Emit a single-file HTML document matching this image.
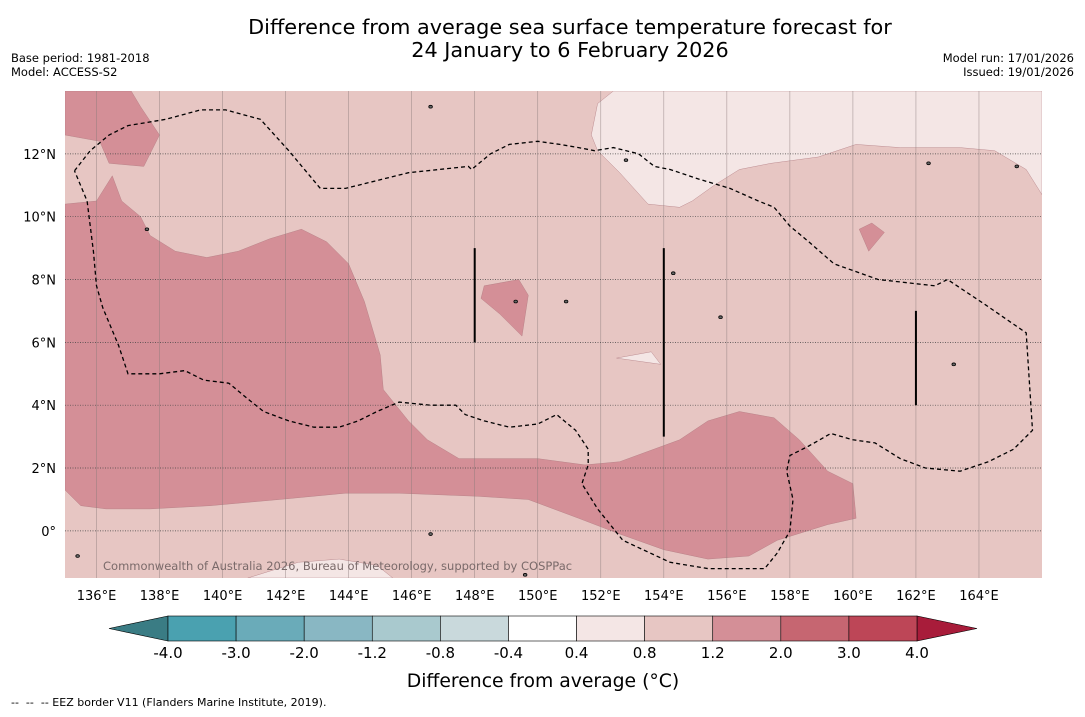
<!DOCTYPE html>
<html><head><meta charset="utf-8">
<style>
body{margin:0;background:#fff;font-family:"DejaVu Sans","Liberation Sans",sans-serif;}
svg text{font-family:"DejaVu Sans","Liberation Sans",sans-serif;}
</style></head>
<body>
<svg id="c" width="1085" height="713" xmlns="http://www.w3.org/2000/svg">
<rect width="1085" height="713" fill="#fff"/>
<text x="570" y="34" text-anchor="middle" font-size="20.8" fill="#000">Difference from average sea surface temperature forecast for</text>
<text x="570" y="57" text-anchor="middle" font-size="20.8" fill="#000">24 January to 6 February 2026</text>
<text x="11" y="62" font-size="11.5">Base period: 1981-2018</text>
<text x="11" y="76" font-size="11.5">Model: ACCESS-S2</text>
<text x="1074" y="62" font-size="11.5" text-anchor="end">Model run: 17/01/2026</text>
<text x="1074" y="76" font-size="11.5" text-anchor="end">Issued: 19/01/2026</text>
<g id="map"></g>
<g id="cbar"></g>
<text x="543" y="687" text-anchor="middle" font-size="18.8">Difference from average (°C)</text>
<text x="11" y="706" font-size="11" xml:space="preserve">--  --  -- EEZ border V11 (Flanders Marine Institute, 2019).</text>
</svg>
<script>
const lonTicks=[136,138,140,142,144,146,148,150,152,154,156,158,160,162,164];
const latTicks=[0,2,4,6,8,10,12];
const latLabels=["0°","2°N","4°N","6°N","8°N","10°N","12°N"];
const cbLevels=[-4.0,-3.0,-2.0,-1.2,-0.8,-0.4,0.4,0.8,1.2,2.0,3.0,4.0];
const cbColors=["#4aa1b0","#6aabb9","#89b7c3","#a9c9ce","#c9d9dc","#ffffff","#f4e6e5","#e7c6c3","#d48f97","#c66671","#bd4657"];
const darkMain=[[135,10.4],[136,10.5],[136.5,11.3],[136.8,10.5],[137.4,10],[137.7,9.4],[138.5,8.9],[139.5,8.7],[140.5,8.9],[141.5,9.3],[142.5,9.6],[143.3,9.2],[144,8.5],[144.5,7.3],[145,5.6],[145.1,4.5],[145.9,3.5],[146.5,2.9],[147.5,2.3],[150,2.3],[151.5,2.1],[152.6,2.2],[154.5,2.9],[155.4,3.5],[156.4,3.8],[157.5,3.6],[158.3,2.9],[159.2,1.9],[160,1.5],[160.1,0.4],[159.2,0.2],[157.6,-0.3],[156.7,-0.8],[155.4,-0.9],[154,-0.6],[152.6,-0.1],[151.3,0.4],[149.7,1],[148.1,1.1],[145.6,1.2],[143.9,1.2],[141.8,1],[139.6,0.8],[137.7,0.7],[136.3,0.7],[135.5,0.8],[135,1.3]];
const darkTopLeft=[[135,14],[137.1,14],[137.4,13.5],[138,12.6],[137.5,11.6],[136.4,11.7],[136.1,12.4],[135,12.6]];
const darkSmall1=[[148.3,7.8],[149.4,8],[149.7,7.5],[149.5,6.2],[148.8,6.9],[148.2,7.4]];
const darkSmall2=[[160.2,9.6],[160.6,9.8],[161,9.5],[160.5,8.9]];
const lightNE=[[151.9,13.6],[152.4,14],[166,14],[166,10.7],[165.5,11.5],[164.5,12.1],[163.4,12.2],[161.5,12.2],[160.1,12.3],[158.9,11.9],[157.4,11.7],[156.4,11.5],[155.6,11],[154.9,10.5],[154.5,10.3],[153.5,10.4],[152.6,11.4],[151.9,12.1],[151.7,12.6]];
const lightSmall=[[152.5,5.5],[153.6,5.7],[153.9,5.3],[153.2,5.4]];
const lightSouth=[[140.8,-1.5],[142.4,-1],[143.7,-0.9],[144.9,-1.1],[145.4,-1.5]];
const eez=[[135.3,11.46],[135.8,12.1],[136.4,12.6],[137,12.9],[138.2,13.1],[139.3,13.4],[140.1,13.4],[141.2,13.1],[142.1,12.1],[143.1,10.9],[143.9,10.9],[145.9,11.4],[147.8,11.6],[147.9,11.5],[148.5,12],[149.1,12.3],[150,12.4],[150.7,12.3],[151.3,12.2],[151.8,12.1],[152.4,12.2],[153.2,12],[153.7,11.6],[154.2,11.5],[155.1,11.2],[156.1,10.9],[157,10.5],[157.5,10.3],[158,9.7],[158.6,9.2],[159.4,8.5],[160.8,8],[162.6,7.8],[163,8],[164.2,7.2],[165.5,6.3],[165.7,3.2],[165.1,2.6],[164.3,2.2],[163.4,1.9],[162.3,2],[161.5,2.3],[160.7,2.8],[160,2.9],[159.3,3.1],[158.6,2.7],[158,2.4],[157.9,1.9],[158.1,1],[158,0],[157.6,-0.7],[157.2,-1.2],[155.4,-1.2],[154.2,-1],[152.7,-0.3],[151.9,0.7],[151.4,1.5],[151.6,2.1],[151.6,2.6],[151.2,3.2],[150.6,3.7],[150,3.4],[149.1,3.3],[148.3,3.5],[147.7,3.7],[147.4,4],[146.6,4],[145.6,4.1],[144.9,3.8],[144.3,3.5],[143.7,3.3],[142.9,3.3],[142.1,3.5],[141.3,3.8],[140.8,4.2],[140.2,4.7],[139.4,4.8],[138.8,5.1],[138,5],[137,5],[136.7,5.9],[136.2,7.1],[136,7.8],[135.9,8.9],[135.7,10.5],[135.3,11.46]];
const eezSegments=[[148,6,9],[154,3,9],[162,4,7]];
const islands=[[146.6,13.5],[137.6,9.6],[155.8,6.8],[150.9,7.3],[163.2,5.3],[152.8,11.8],[135.4,-0.8],[146.6,-0.1],[154.3,8.2],[149.3,7.3],[162.4,11.7],[165.2,11.6],[149.6,-1.4]];

const X0=65,X1=1042,Y0=91,Y1=578,LON0=135,LON1=166,LAT0=-1.5,LAT1=14;
const sx=l=>X0+(l-LON0)/(LON1-LON0)*(X1-X0);
const sy=l=>Y1-(l-LAT0)/(LAT1-LAT0)*(Y1-Y0);
const NS="http://www.w3.org/2000/svg";
const map=document.getElementById('map');
function mk(tag,attrs,parent){const e=document.createElementNS(NS,tag);for(const k in attrs)e.setAttribute(k,attrs[k]);parent.appendChild(e);return e;}
const cp=mk('clipPath',{id:'clip'},map);mk('rect',{x:X0,y:Y0,width:X1-X0,height:Y1-Y0},cp);
const g=mk('g',{'clip-path':'url(#clip)'},map);
const bg=mk('rect',{x:X0,y:Y0,width:X1-X0,height:Y1-Y0,fill:'#e7c6c3'},g);


const pts=a=>a.map(p=>sx(p[0]).toFixed(1)+','+sy(p[1]).toFixed(1)).join(' ');
[[darkMain,'#d48f97','warm-region-main'],[darkTopLeft,'#d48f97','warm-region-northwest'],[darkSmall1,'#d48f97','warm-patch-148e'],[darkSmall2,'#d48f97','warm-patch-160e'],[lightNE,'#f4e6e5','cool-region-northeast'],[lightSmall,'#f4e6e5','cool-patch-153e'],[lightSouth,'#f4e6e5','cool-patch-south']].forEach(([a,c,n])=>{
 const p=mk('polygon',{points:pts(a),fill:c,stroke:'#b07a80','stroke-width':0.4},g);
 
 
});
lonTicks.forEach(l=>{const ln=mk('line',{x1:sx(l),x2:sx(l),y1:Y0,y2:Y1,stroke:'#8a7a7a','stroke-width':0.6,opacity:0.7},g);
 
 });
latTicks.forEach(l=>{const ln=mk('line',{x1:X0,x2:X1,y1:sy(l),y2:sy(l),stroke:'#444','stroke-width':0.7,'stroke-dasharray':'1,1.5'},g);
 
 });
const ez=mk('polyline',{points:pts(eez),fill:'none',stroke:'#000','stroke-width':1.3,'stroke-dasharray':'4,3'},g);


eezSegments.forEach(s=>{const ln=mk('line',{x1:sx(s[0]),x2:sx(s[0]),y1:sy(s[1]),y2:sy(s[2]),stroke:'#000','stroke-width':2},g);
 
 });
islands.forEach(p=>{const c=mk('ellipse',{cx:sx(p[0]),cy:sy(p[1]),rx:1.8,ry:1.4,fill:'#666',stroke:'#000','stroke-width':0.8},g);
 
 });
const cr=mk('text',{x:103,y:570,'font-size':11.5,fill:'#7a6a6a'},g);cr.textContent='Commonwealth of Australia 2026, Bureau of Meteorology, supported by COSPPac';


lonTicks.forEach(l=>{const t=mk('text',{x:sx(l),y:600,'font-size':13,'text-anchor':'middle'},map);t.textContent=l+'°E';
 
 });
latTicks.forEach((l,i)=>{const t=mk('text',{x:56,y:sy(l)+5,'font-size':13,'text-anchor':'end'},map);t.textContent=latLabels[i];
 
 });
const cb=document.getElementById('cbar');
const CB0=168,CB1=917,CBy=616,CBh=25;
const bw=(CB1-CB0)/cbColors.length;
const tl=mk('polygon',{points:`${CB0},${CBy} ${CB0},${CBy+CBh} 109,${CBy+CBh/2}`,fill:'#3a7c84',stroke:'#000','stroke-width':0.6},cb);


const tr=mk('polygon',{points:`${CB1},${CBy} ${CB1},${CBy+CBh} 977,${CBy+CBh/2}`,fill:'#a81c3a',stroke:'#000','stroke-width':0.6},cb);


cbColors.forEach((c,i)=>{const r=mk('rect',{x:CB0+i*bw,y:CBy,width:bw,height:CBh,fill:c,stroke:'#000','stroke-width':0.6},cb);
 
 });
cbLevels.forEach((v,i)=>{const t=mk('text',{x:CB0+i*bw,y:658,'font-size':15,'text-anchor':'middle'},cb);t.textContent=v.toFixed(1);
 
 });
</script>
</body></html>
